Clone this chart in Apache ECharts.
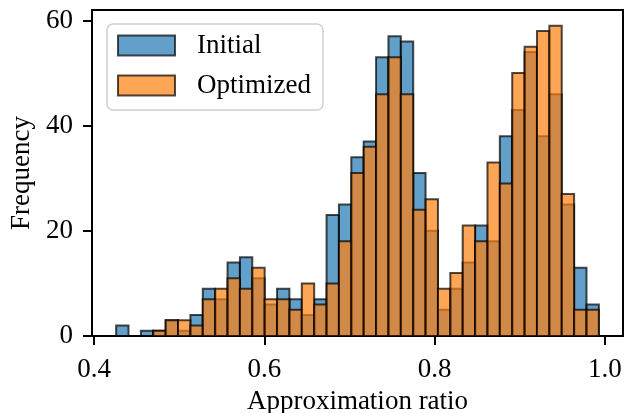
<!DOCTYPE html>
<html>
<head>
<meta charset="utf-8">
<script src="https://cdn.jsdelivr.net/npm/echarts@6/dist/echarts.min.js"></script>
<style>html,body{margin:0;padding:0;background:#fff}#c{width:626px;height:413px}</style>
</head>
<body>
<div id="c"></div>
<script>
// Histogram bins (shared by both series)
const binMin = 0.4259;
const binMax = 0.9928;
const nBins = 39;
// Counts per bin
const initialCounts = [2,0,1,1,3,1,4,9,7,14,15,11,6,9,7,4,7,23,25,34,37,53,57,56,31,20,5,9,14,21,18,38,43,54,38,46,25,13,6];
const optimizedCounts = [0,0,0,1,3,3,2,7,9,11,9,13,7,7,5,10,6,10,18,31,36,46,53,46,24,26,9,12,21,18,33,29,50,55,58,59,27,5,5];
const xTicks = [0.4, 0.6, 0.8, 1.0];
const yTicks = [0, 20, 40, 60];
const seriesNames = ['Initial', 'Optimized'];

const binW = (binMax - binMin) / nBins;
function toData(counts) {
  return counts.map((c, i) => [binMin + i * binW, binMin + (i + 1) * binW, c]);
}
function renderItem(params, api) {
  const p0 = api.coord([api.value(0), api.value(2)]);
  const p1 = api.coord([api.value(1), 0]);
  return {
    type: 'rect',
    shape: { x: p0[0], y: p0[1], width: p1[0] - p0[0], height: p1[1] - p0[1] },
    style: api.style()
  };
}
const margin = (binMax - binMin) * 0.05;
const font = 'Liberation Serif';
const chart = echarts.init(document.getElementById('c'), null, { renderer: 'canvas' });
chart.setOption({
  animation: false,
  backgroundColor: '#fff',
  grid: { left: 92, top: 10, width: 531, height: 326, containLabel: false, outerBoundsMode: 'none', show: true, borderColor: '#000', borderWidth: 2, backgroundColor: 'transparent' },
  legend: {
    orient: 'vertical', left: 107, top: 24,
    data: seriesNames,
    itemWidth: 57, itemHeight: 20, itemGap: 13,
    icon: 'rect',
    padding: [8, 12, 11, 10],
    borderColor: '#d0d0d0', borderWidth: 1.5, borderRadius: 6,
    backgroundColor: 'rgba(255,255,255,0.8)',
    textStyle: { fontFamily: font, fontSize: 27, color: '#000', padding: [0, 0, 0, 17] },
    itemStyle: { borderColor: 'rgba(0,0,0,0.7)', borderWidth: 2 }
  },
  xAxis: {
    type: 'value', min: binMin - margin, max: binMax + margin,
    name: 'Approximation ratio', nameLocation: 'middle', nameGap: 52,
    nameTextStyle: { fontFamily: font, fontSize: 27, color: '#000' },
    axisLine: { show: true, lineStyle: { color: '#000', width: 2 } },
    axisTick: { show: true, length: 9, lineStyle: { color: '#000', width: 2 }, customValues: xTicks },
    axisLabel: { fontFamily: font, fontSize: 27, color: '#000', margin: 20, customValues: xTicks, formatter: v => v.toFixed(1) },
    splitLine: { show: false }
  },
  yAxis: {
    type: 'value', min: 0, max: 62,
    name: 'Frequency', nameLocation: 'middle', nameGap: 56, nameRotate: 90,
    nameTextStyle: { fontFamily: font, fontSize: 27, color: '#000' },
    axisLine: { show: true, lineStyle: { color: '#000', width: 2 } },
    axisTick: { show: true, length: 9, lineStyle: { color: '#000', width: 2 }, customValues: yTicks },
    axisLabel: { fontFamily: font, fontSize: 27, color: '#000', margin: 19, customValues: yTicks },
    splitLine: { show: false }
  },
  series: [
    {
      name: seriesNames[0], type: 'custom', renderItem,
      itemStyle: { color: 'rgba(31,119,180,0.7)', borderColor: 'rgba(0,0,0,0.7)', borderWidth: 2 },
      encode: { x: [0, 1], y: 2 },
      data: toData(initialCounts)
    },
    {
      name: seriesNames[1], type: 'custom', renderItem,
      itemStyle: { color: 'rgba(255,127,14,0.7)', borderColor: 'rgba(0,0,0,0.7)', borderWidth: 2 },
      encode: { x: [0, 1], y: 2 },
      data: toData(optimizedCounts)
    }
  ]
});
</script>
</body>
</html>
